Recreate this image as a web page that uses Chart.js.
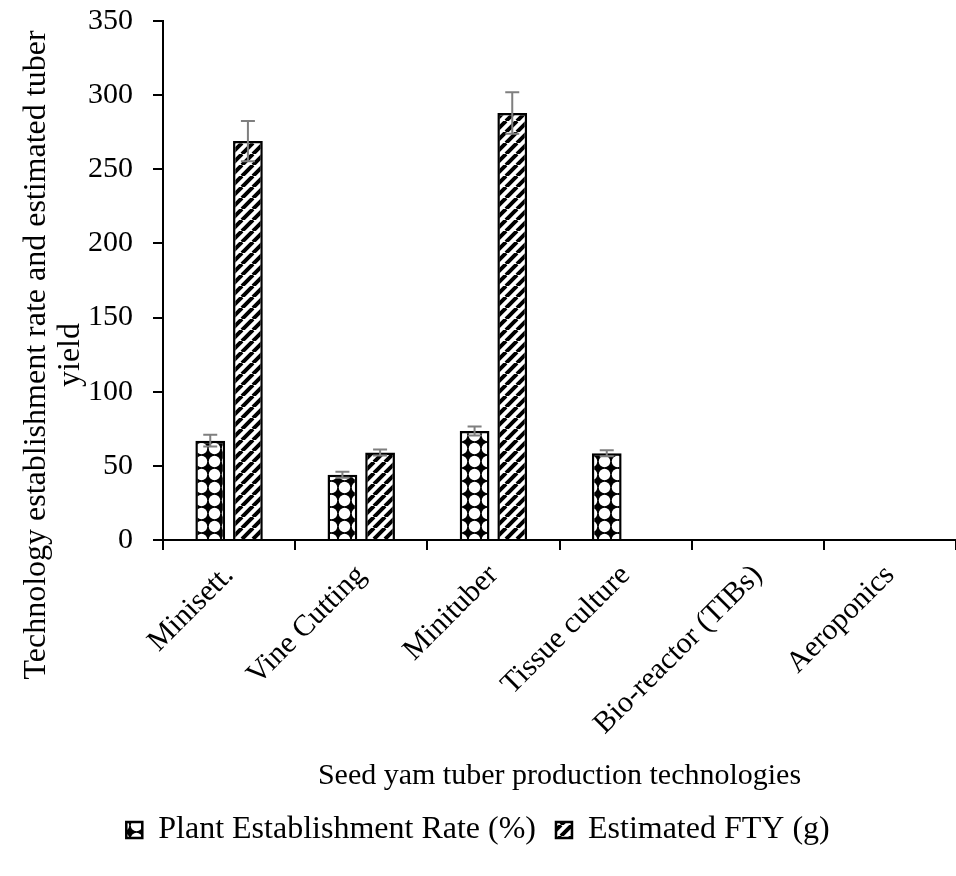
<!DOCTYPE html>
<html>
<head>
<meta charset="utf-8">
<title>Seed yam tuber production technologies</title>
<script src="https://cdn.jsdelivr.net/npm/chart.js@4.4.0/dist/chart.umd.min.js"></script>
<style>
  html, body { margin: 0; padding: 0; background: #fff; overflow: hidden; }
  canvas { display: block; }
</style>
</head>
<body>
<canvas id="myChart" width="956" height="876"></canvas>
<script>
// categories and series
var technologies = ['Minisett.', 'Vine Cutting', 'Minituber', 'Tissue culture', 'Bio-reactor (TIBs)', 'Aeroponics'];
var establishmentRate = [67, 44, 73.5, 58.5, null, null];
var establishmentErr = [4, 2, 3, 2, null, null];
var estimatedFty = [269, 59, 288, null, null, null];
var estimatedFtyErr = [13.5, 2, 14, null, null, null];
var yTicks = [0, 50, 100, 150, 200, 250, 300, 350];

var yTitle = ['Technology establishment rate and estimated tuber', 'yield'];
var xTitle = 'Seed yam tuber production technologies';

var serif = "'Liberation Serif', 'Times New Roman', serif";

// white circles on black: leaves the little black stars in between
function dotPattern() {
    var s = 13;
    var c = document.createElement('canvas');
    c.width = s; c.height = s;
    var g = c.getContext('2d');
    g.fillStyle = '#000';
    g.fillRect(0, 0, s, s);
    g.fillStyle = '#fff';
    g.beginPath();
    g.arc(s / 2, s / 2, 5.7, 0, Math.PI * 2);
    g.fill();
    return g.createPattern(c, 'repeat');
}

// wide upward diagonal stripes
function stripePattern() {
    var s = 11;
    var c = document.createElement('canvas');
    c.width = s; c.height = s;
    var g = c.getContext('2d');
    g.fillStyle = '#fff';
    g.fillRect(0, 0, s, s);
    g.strokeStyle = '#000';
    g.lineWidth = 4;
    g.beginPath();
    for (var k = -1; k <= 1; k++) {
        g.moveTo(k * s, s);
        g.lineTo(k * s + s, 0);
    }
    g.stroke();
    return g.createPattern(c, 'repeat');
}

// grey error bars from the errors array of each dataset
var errorBars = {
    id: 'errorBars',
    afterDatasetsDraw: function (chart) {
        var ctx = chart.ctx;
        var y = chart.scales.y;
        chart.data.datasets.forEach(function (ds, i) {
            var meta = chart.getDatasetMeta(i);
            meta.data.forEach(function (bar, j) {
                var v = ds.data[j], e = ds.errors[j];
                if (v == null || e == null) return;
                var top = y.getPixelForValue(v + e);
                var bot = y.getPixelForValue(v - e);
                ctx.save();
                ctx.strokeStyle = '#7f7f7f';
                ctx.lineWidth = 2;
                ctx.beginPath();
                ctx.moveTo(bar.x, top); ctx.lineTo(bar.x, bot);
                ctx.moveTo(bar.x - 7, top); ctx.lineTo(bar.x + 7, top);
                ctx.moveTo(bar.x - 7, bot); ctx.lineTo(bar.x + 7, bot);
                ctx.stroke();
                ctx.restore();
            });
        });
    }
};

// two-line y title, drawn by hand so the long line is not clipped
var yAxisTitle = {
    id: 'yAxisTitle',
    afterDraw: function (chart) {
        var ctx = chart.ctx;
        ctx.save();
        ctx.font = '32px ' + serif;
        ctx.fillStyle = '#000';
        ctx.textAlign = 'center';
        ctx.textBaseline = 'alphabetic';
        ctx.translate(0, 355);
        ctx.rotate(-Math.PI / 2);
        ctx.fillText(yTitle[0], 0, 45);
        ctx.fillText(yTitle[1], 0, 79);
        ctx.restore();
    }
};

var ctx = document.getElementById('myChart').getContext('2d');
var chart = new Chart(ctx, {
    type: 'bar',
    data: {
        labels: technologies,
        datasets: [{
            label: 'Plant Establishment Rate (%)',
            data: establishmentRate,
            errors: establishmentErr,
            backgroundColor: dotPattern(),
            borderColor: '#000',
            borderWidth: 2.5,
            barPercentage: 0.79,
            categoryPercentage: 0.57
        }, {
            label: 'Estimated FTY (g)',
            data: estimatedFty,
            errors: estimatedFtyErr,
            backgroundColor: stripePattern(),
            borderColor: '#000',
            borderWidth: 2.5,
            barPercentage: 0.79,
            categoryPercentage: 0.57
        }]
    },
    options: {
        responsive: false,
        animation: false,
        layout: { padding: { top: 21, right: 0, bottom: 20, left: 0 } },
        plugins: {
            tooltip: { enabled: false },
            legend: {
                position: 'bottom',
                labels: {
                    color: '#000',
                    font: { family: serif, size: 32 },
                    boxWidth: 16,
                    boxHeight: 16,
                    padding: 20
                }
            }
        },
        scales: {
            x: {
                afterFit: function (scale) {
                    scale.height = 254;
                    scale.paddingTop = 0;
                },
                grid: {
                    display: true,
                    drawOnChartArea: false,
                    drawTicks: true,
                    tickLength: 10,
                    color: '#000',
                    lineWidth: 2
                },
                border: { display: true, color: '#000', width: 2 },
                ticks: {
                    color: '#000',
                    font: { family: serif, size: 30 },
                    minRotation: 45,
                    maxRotation: 45,
                    padding: 8
                },
                title: {
                    display: true,
                    text: xTitle,
                    color: '#000',
                    font: { family: serif, size: 30 },
                    padding: 0
                }
            },
            y: {
                min: yTicks[0],
                max: yTicks[yTicks.length - 1],
                afterBuildTicks: function (scale) {
                    scale.ticks = yTicks.map(function (v) { return { value: v }; });
                },
                afterFit: function (scale) {
                    scale.width = 163;
                    scale.paddingTop = 0;
                    scale.paddingBottom = 0;
                },
                grid: {
                    display: true,
                    drawOnChartArea: false,
                    drawTicks: true,
                    tickLength: 10,
                    color: '#000',
                    lineWidth: 2
                },
                border: { display: true, color: '#000', width: 2 },
                ticks: {
                    color: '#000',
                    font: { family: serif, size: 30 },
                    padding: 20
                }
            }
        }
    },
    plugins: [errorBars, yAxisTitle]
});
</script>
</body>
</html>
